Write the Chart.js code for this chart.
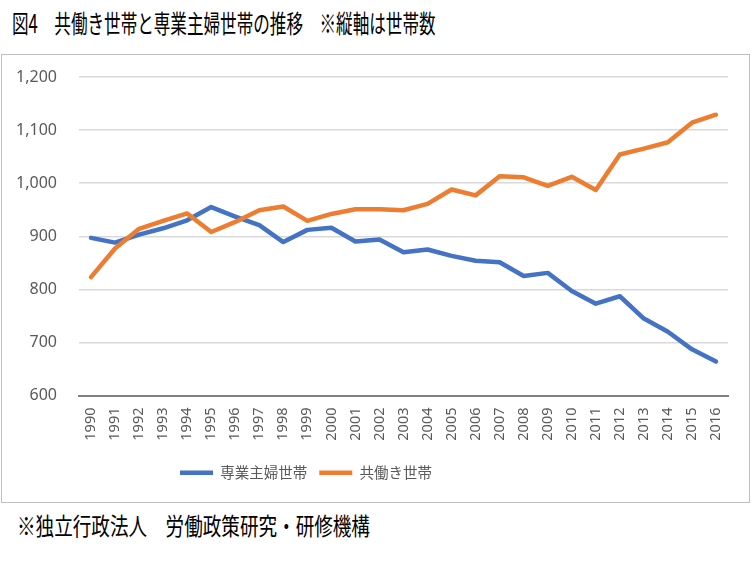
<!DOCTYPE html>
<html><head><meta charset="utf-8">
<script src="https://cdn.jsdelivr.net/npm/chart.js@4"></script>
<style>
html,body{margin:0;padding:0;background:#fff;width:752px;height:580px;overflow:hidden;position:relative;font-family:"Noto Sans CJK JP",sans-serif;}
#title{position:absolute;left:12px;top:9px;font-size:25.5px;line-height:1;transform:scaleX(0.65);transform-origin:0 0;white-space:nowrap;color:#000;}
#box{position:absolute;left:1px;top:54px;width:749px;height:449px;border:1.5px solid #bfbfbf;box-sizing:border-box;}
#wrap{position:absolute;left:0;top:54px;width:752px;height:450px;}
#note{position:absolute;left:17px;top:513px;font-size:24px;line-height:1;transform:scaleX(0.774);transform-origin:0 0;white-space:nowrap;color:#000;}
</style>
</head><body>
<div id="title">図4　共働き世帯と専業主婦世帯の推移　※縦軸は世帯数</div>
<div id="box"></div>
<div id="wrap"><canvas id="c"></canvas></div>
<div id="note">※独立行政法人　労働政策研究・研修機構</div>
<script>
const years = ['1990','1991','1992','1993','1994','1995','1996','1997','1998','1999','2000','2001','2002','2003','2004','2005','2006','2007','2008','2009','2010','2011','2012','2013','2014','2015','2016'];
const housewifeHouseholds = [897,888,903,915,930,955,937,921,889,912,916,890,894,870,875,863,854,851,825,831,797,773,787,745,720,687,664];
const dualIncomeHouseholds = [823,877,914,929,943,908,927,949,956,929,942,951,951,949,961,988,977,1013,1011,995,1012,987,1054,1065,1077,1114,1129];
const seriesNames = ['専業主婦世帯','共働き世帯'];
const yTicks = {min:600, max:1200, step:100};

const legendShift = {
  id:'legendShift',
  afterLayout(chart){
    const lg = chart.legend;
    if (lg) { lg.left -= 58; lg.right -= 58; }
  }
};

new Chart(document.getElementById('c'), {
  type:'line',
  data:{
    labels: years,
    datasets:[
      {label:seriesNames[0], data:housewifeHouseholds, borderColor:'#4472C4', backgroundColor:'#4472C4', borderWidth:4.5, pointRadius:0, tension:0, borderCapStyle:'round', borderJoinStyle:'round', order:1},
      {label:seriesNames[1], data:dualIncomeHouseholds, borderColor:'#ED7D31', backgroundColor:'#ED7D31', borderWidth:4.5, pointRadius:0, tension:0, borderCapStyle:'round', borderJoinStyle:'round', order:0}
    ]
  },
  plugins:[legendShift],
  options:{
    responsive:true, maintainAspectRatio:false, animation:false,
    layout:{padding:{left:0,right:24,top:23,bottom:14}},
    plugins:{
      tooltip:{enabled:false},
      legend:{position:'bottom', labels:{usePointStyle:true, pointStyle:'line', pointStyleWidth:33, boxHeight:15, padding:12, color:'#595959', font:{family:'"Noto Sans CJK JP"', size:14.5}, sort:(a,b)=>a.datasetIndex-b.datasetIndex}}
    },
    scales:{
      y:{min:yTicks.min, max:yTicks.max,
         ticks:{stepSize:yTicks.step, padding:22, color:'#595959', font:{family:'"Noto Sans"', size:16}},
         grid:{color:c=>c.tick && c.tick.value===600?'rgba(0,0,0,0)':'#d9d9d9', lineWidth:1.5, drawTicks:false},
         border:{display:false},
         afterFit:s=>{s.width=79; s.paddingTop=0; s.paddingBottom=0;}},
      x:{offset:true,
         grid:{display:false, drawTicks:false},
         border:{color:'#808080', width:2},
         ticks:{autoSkip:false, minRotation:90, maxRotation:90, padding:12, color:'#595959', font:{family:'"Noto Sans"', size:14.5}},
         afterFit:s=>{s.height=58;}}
    }
  }
});
</script>
</body></html>
